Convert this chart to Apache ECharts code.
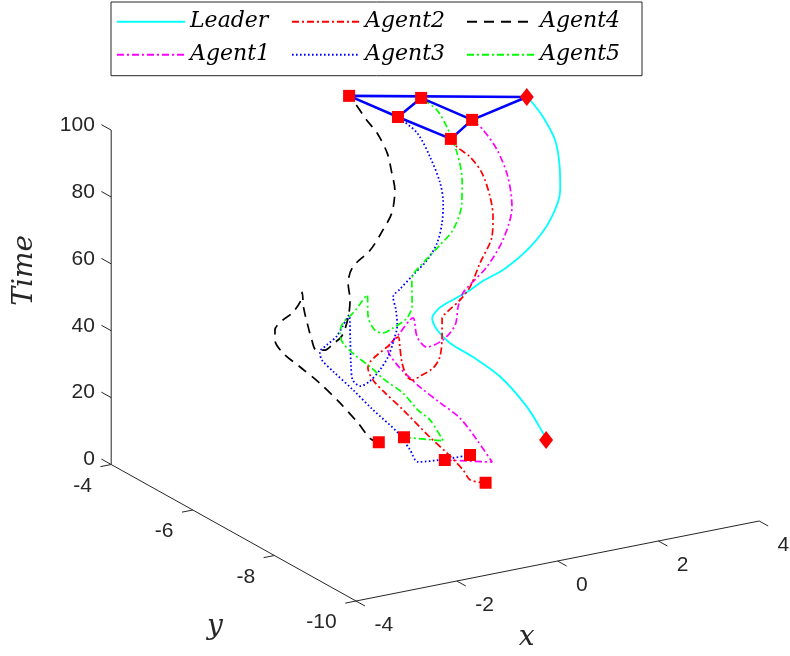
<!DOCTYPE html>
<html>
<head>
<meta charset="utf-8">
<script src="https://cdn.jsdelivr.net/npm/echarts@6/dist/echarts.min.js"></script>
<style>
  html, body { margin: 0; padding: 0; background: #fff; }
  #chart { width: 790px; height: 656px; }
</style>
</head>
<body>
<div id="chart"></div>
<script>
// axis limits and ticks
const xLim = [-4, 4];
const yLim = [-10, -4];
const zLim = [0, 100];
const xTicks = [-4, -2, 0, 2, 4];
const yTicks = [-10, -8, -6, -4];
const zTicks = [0, 20, 40, 60, 80, 100];

// trajectories: position (x, y) over time t
const leaderT = [0, 2.2, 11.0, 21.6, 29.1, 34.7, 39.3, 43.2, 45.3, 46.8, 48.9, 51.3, 53.4, 58.6, 65.5, 73.9, 79.9, 87.3, 93.9, 99.0, 100];
const leaderX = [3.01, 2.95, 2.63, 2.10, 1.56, 1.10, 0.85, 0.75, 0.85, 1.04, 1.44, 1.76, 2.16, 2.69, 3.09, 3.29, 3.36, 3.35, 3.20, 3.01, 2.95];
const leaderY = [-6, -6, -6, -6, -6, -6, -6, -6, -6, -6, -6, -6, -6, -6, -6, -6, -5.90, -5.80, -5.69, -5.61, -5.60];

const a1T = [0, 1, 8.5, 16.1, 21.8, 27.7, 34.6, 39.1, 40.7, 45.1, 48.8, 49.5, 50.5, 51.8, 53.0, 54.5, 56.2, 56.9, 59.4, 65.6, 74.4, 83.2, 90.6, 96.9, 100];
const a1X = [1.00, 1.55, 1.25, 0.91, 0.52, 0.12, -0.28, -0.48, -0.52, -0.28, -0.02, -0.52, -0.73, -0.42, 0.04, 0.43, 0.71, 1.05, 1.47, 1.87, 2.09, 2.05, 1.95, 1.72, 1.55];
const a1Y = [-6.00, -6.48, -6.48, -6.48, -6.48, -6.48, -6.48, -6.48, -6.48, -6.48, -6.48, -7.20, -7.70, -7.71, -7.44, -7.03, -6.80, -6.60, -6.45, -6.35, -6.30, -6.25, -6.11, -6.05, -5.99];

const a2T = [0, 1, 4.4, 10.4, 16.2, 25.9, 32.1, 36.7, 40.6, 42.2, 43.9, 45.7, 48.0, 48.6, 49.3, 50.0, 50.6, 51.2, 52.0, 52.8, 53.6, 54.4, 55.0, 56.0, 57.5, 63.7, 70.5, 76.3, 82.2, 89.5, 94.5, 97.7, 100];
const a2X = [1.00, 0.76, 0.62, 0.30, -0.04, -0.57, -0.93, -1.17, -1.27, -1.23, -1.09, -0.89, -0.67, -0.96, -1.41, -1.76, -1.81, -1.65, -1.32, -1.00, -0.52, -0.09, 0.09, 0.51, 0.86, 1.09, 1.35, 1.39, 1.35, 1.22, 1.03, 0.82, 0.74];
const a2Y = [-7.00, -6.92, -6.92, -6.92, -6.92, -6.92, -6.92, -6.92, -6.92, -6.92, -6.92, -6.92, -6.92, -7.32, -7.93, -8.49, -8.69, -8.67, -8.58, -8.35, -7.81, -7.28, -7.18, -6.98, -6.79, -6.75, -6.72, -6.70, -6.68, -6.64, -6.58, -6.52, -6.47];

const a3T = [0, 0.5, 1, 5.1, 10.9, 19.2, 26.4, 33.2, 37.2, 39.7, 41.4, 43.5, 49.0, 49.5, 50.0, 50.5, 51.0, 51.5, 52.0, 52.5, 53.0, 53.5, 54.0, 54.5, 54.7, 57.2, 59.9, 64.0, 69.4, 75.1, 80.8, 88.3, 95.0, 100];
const a3X = [1.50, 1.00, 0.47, 0.31, 0.07, -0.42, -0.82, -1.22, -1.44, -1.48, -1.34, -1.14, -0.90, -1.58, -2.27, -2.68, -2.77, -2.54, -2.15, -1.74, -1.25, -0.85, -0.52, -0.26, 0.03, 0.37, 0.73, 0.97, 1.09, 1.13, 1.11, 0.99, 0.84, 0.54];
const a3Y = [-6.00, -6.03, -6.00, -6.00, -6.00, -6.00, -6.00, -6.00, -6.00, -6.00, -6.00, -6.00, -6.00, -6.87, -7.74, -8.29, -8.59, -8.54, -8.30, -7.99, -7.53, -7.12, -6.68, -6.29, -6.10, -6.00, -5.90, -5.85, -5.82, -5.80, -5.75, -5.65, -5.52, -5.42];

const a4T = [0, 1, 6.5, 13.6, 20.7, 26.7, 31.9, 36.3, 39.3, 41.8, 43.3, 46.2, 49.0, 49.5, 50.0, 50.5, 51.0, 51.5, 52.0, 52.5, 53.0, 53.5, 54.2, 56.7, 58.9, 63.2, 66.9, 73.1, 77.9, 83.2, 88.9, 92.6, 97.8, 100];
const a4X = [0.50, 0.38, 0.13, -0.23, -0.63, -1.02, -1.36, -1.52, -1.52, -1.36, -1.18, -1.02, -0.98, -1.42, -1.85, -2.23, -2.47, -2.39, -2.16, -1.86, -1.34, -0.88, -0.53, -0.26, 0.25, 0.58, 0.84, 0.94, 0.92, 0.91, 0.79, 0.65, 0.47, 0.38];
const a4Y = [-5.00, -4.95, -4.95, -4.95, -4.95, -4.95, -4.95, -4.95, -4.95, -4.95, -4.95, -4.95, -4.95, -5.53, -6.16, -6.73, -7.13, -7.25, -7.16, -7.01, -6.52, -6.00, -5.52, -5.30, -5.10, -5.00, -4.90, -4.85, -4.80, -4.70, -4.60, -4.52, -4.45, -4.42];

const a5T = [0, 1, 8.0, 11.7, 17.7, 22.7, 27.5, 31.9, 36.2, 39.4, 42.2, 44.6, 46.9, 49.2, 49.7, 50.2, 50.7, 51.2, 52.0, 53.0, 54.0, 55.4, 56.5, 59.5, 62.8, 70.1, 76.7, 84.2, 91.6, 96.4, 100];
const a5X = [1.00, 1.39, 1.13, 0.89, 0.59, 0.23, -0.06, -0.36, -0.60, -0.66, -0.60, -0.40, -0.26, -0.12, -0.73, -1.02, -1.02, -0.79, -0.39, -0.06, 0.37, 0.53, 0.89, 1.35, 1.65, 1.84, 1.87, 1.85, 1.73, 1.61, 1.38];
const a5Y = [-5.00, -5.48, -5.48, -5.48, -5.48, -5.48, -5.48, -5.48, -5.48, -5.48, -5.48, -5.48, -5.48, -5.48, -6.26, -6.78, -6.98, -6.94, -6.79, -6.51, -5.97, -5.80, -5.60, -5.45, -5.40, -5.38, -5.35, -5.25, -5.15, -5.05, -4.95];

// final formation edges, walked as one path
const formation = ['Agent3', 'Agent4', 'Leader', 'Agent1', 'Agent5', 'Agent3', 'Agent2', 'Agent1'];

const legendOrder = ['Leader', 'Agent2', 'Agent4', 'Agent1', 'Agent3', 'Agent5'];

// orthographic view of the plot box: screen offset per unit of x, y and time
const view = {
  origin: [356, 601],
  ex: [50.4, -10],
  ey: [-40.8, -22.75],
  ez: [0, -3.344]
};
const proj = (x, y, z) => {
  const a = x - xLim[0], b = y - yLim[0], c = z - zLim[0];
  return [
    view.origin[0] + a * view.ex[0] + b * view.ey[0] + c * view.ez[0],
    view.origin[1] + a * view.ex[1] + b * view.ey[1] + c * view.ez[1]
  ];
};

const tracks = [
  { name: 'Leader', t: leaderT, x: leaderX, y: leaderY, color: '#00ffff', dash: 'solid', width: 1.8 },
  { name: 'Agent1', t: a1T, x: a1X, y: a1Y, color: '#ff00ff', dash: [7, 3, 2, 3], width: 1.7 },
  { name: 'Agent2', t: a2T, x: a2X, y: a2Y, color: '#ff0000', dash: [7, 3, 2, 3], width: 1.7 },
  { name: 'Agent3', t: a3T, x: a3X, y: a3Y, color: '#0000ff', dash: [1.6, 2.4], width: 1.8 },
  { name: 'Agent4', t: a4T, x: a4X, y: a4Y, color: '#000000', dash: [10, 7], width: 1.7 },
  { name: 'Agent5', t: a5T, x: a5X, y: a5Y, color: '#00ff00', dash: [7, 3, 2, 3], width: 1.7 }
];
const pointsOf = tr => tr.t.map((t, i) => proj(tr.x[i], tr.y[i], t));
const byName = {};
tracks.forEach(tr => { byName[tr.name] = pointsOf(tr); });
const last = name => byName[name][byName[name].length - 1];

const axisColor = '#262626';
const tickFont = { fontFamily: 'Liberation Sans, Arial, sans-serif', fontSize: 21 };
const titleFont = { fontFamily: 'DejaVu Serif', fontStyle: 'italic', fontSize: 28 };

function renderAxes(params, api) {
  const c = (x, y, z) => api.coord(proj(x, y, z));
  const kids = [];
  const seg = (p, q) => kids.push({
    type: 'line',
    shape: { x1: p[0], y1: p[1], x2: q[0], y2: q[1] },
    style: { stroke: axisColor, lineWidth: 1 }
  });
  const label = (p, dx, dy, text, align, font, rotation) => kids.push({
    type: 'text',
    x: p[0] + dx, y: p[1] + dy,
    rotation: rotation || 0,
    style: Object.assign({ text: text, align: align, verticalAlign: 'middle', fill: axisColor }, font)
  });

  // x axis (front edge), ticks point toward -y
  seg(c(xLim[0], yLim[0], zLim[0]), c(xLim[1], yLim[0], zLim[0]));
  xTicks.forEach(v => {
    const p = c(v, yLim[0], zLim[0]);
    seg(p, c(v, yLim[0] - 0.22, zLim[0]));
    label(p, 18.4, 24.5, String(v), 'left', tickFont);
  });
  // y axis (left edge), ticks point toward -x
  seg(c(xLim[0], yLim[0], zLim[0]), c(xLim[0], yLim[1], zLim[0]));
  yTicks.forEach(v => {
    const p = c(xLim[0], v, zLim[0]);
    seg(p, c(xLim[0] - 0.214, v, zLim[0]));
    label(p, -19.3, 21.5, String(v), 'right', tickFont);
  });
  // time axis (back corner), ticks point toward +y
  seg(c(xLim[0], yLim[1], zLim[0]), c(xLim[0], yLim[1], zLim[1]));
  zTicks.forEach(v => {
    const q = c(xLim[0], yLim[1] + 0.24, v);
    seg(c(xLim[0], yLim[1], v), q);
    label(q, -6.5, 0.5, String(v), 'right', tickFont);
  });

  // axis titles
  label(c(0, yLim[0], zLim[0]), -31, 77, 'x', 'center', titleFont);
  label(c(xLim[0], -7, zLim[0]), -18.6, 94, 'y', 'center', titleFont);
  label(c(xLim[0], yLim[1], 50), -86, -27, 'Time', 'center', titleFont, Math.PI / 2);

  return { type: 'group', children: kids };
}

const series = [];
series.push({
  type: 'custom',
  silent: true,
  z: 1,
  renderItem: renderAxes,
  data: [[0, 0]]
});
tracks.forEach(tr => {
  series.push({
    name: tr.name,
    type: 'line',
    data: byName[tr.name],
    symbol: 'none',
    smooth: 0.3,
    silent: true,
    z: 2,
    lineStyle: { color: tr.color, width: tr.width, type: tr.dash, cap: 'butt' },
    itemStyle: { color: tr.color }
  });
});
series.push({
  name: 'formation',
  type: 'line',
  data: formation.map(last),
  symbol: 'none',
  silent: true,
  z: 3,
  lineStyle: { color: '#0000ff', width: 2.6 }
});
series.push({
  name: 'agentMarks',
  type: 'scatter',
  symbol: 'rect',
  symbolSize: 12,
  silent: true,
  z: 4,
  itemStyle: { color: '#ff0000', opacity: 1 },
  data: tracks.filter(tr => tr.name !== 'Leader')
    .flatMap(tr => [byName[tr.name][0], last(tr.name)])
});
series.push({
  name: 'leaderMarks',
  type: 'scatter',
  symbol: 'diamond',
  symbolSize: [14, 18],
  silent: true,
  z: 4,
  itemStyle: { color: '#ff0000', opacity: 1 },
  data: [byName['Leader'][0], last('Leader')]
});

const chart = echarts.init(document.getElementById('chart'));
chart.setOption({
  animation: false,
  backgroundColor: '#ffffff',
  grid: { left: 0, right: 0, top: 0, bottom: 0 },
  xAxis: { type: 'value', min: 0, max: 790, show: false },
  yAxis: { type: 'value', min: 0, max: 656, inverse: true, show: false },
  legend: {
    data: legendOrder,
    selectedMode: false,
    left: 111,
    top: 2,
    width: 525,
    padding: [5.7, 6, 7, 5],
    itemWidth: 68,
    itemHeight: 28,
    itemGap: 5,
    itemStyle: { opacity: 0 },
    borderColor: axisColor,
    borderWidth: 1,
    backgroundColor: '#ffffff',
    textStyle: {
      fontFamily: 'DejaVu Serif',
      fontStyle: 'italic',
      fontSize: 22,
      color: '#000',
      width: 96,
      lineHeight: 28
    }
  },
  series: series
});
</script>
</body>
</html>
